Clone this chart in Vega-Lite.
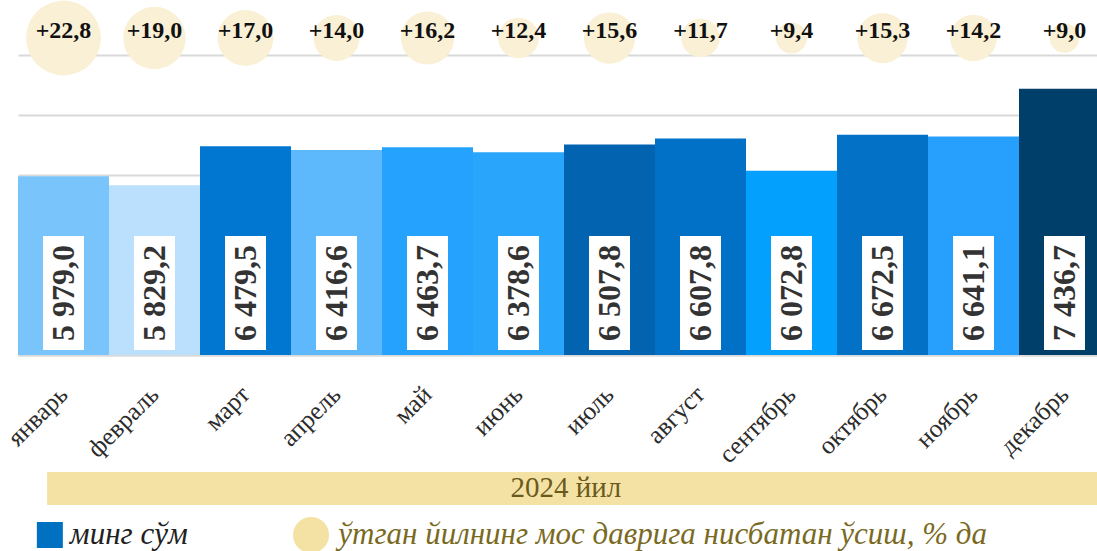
{
  "$schema": "https://vega.github.io/schema/vega-lite/v6.json",
  "width": 1079,
  "height": 355,
  "autosize": {"type": "none"},
  "padding": {"left": 18, "top": 0, "right": 0, "bottom": 196},
  "background": "white",
  "config": {
    "view": {"stroke": null},
    "font": "Liberation Serif",
    "locale": {"number": {"decimal": ",", "thousands": " ", "grouping": [3], "currency": ["", ""]}}
  },
  "data": {"values": [
    {"month": "январь", "value": 5979.0, "growth": 22.8},
    {"month": "февраль", "value": 5829.2, "growth": 19.0},
    {"month": "март", "value": 6479.5, "growth": 17.0},
    {"month": "апрель", "value": 6416.6, "growth": 14.0},
    {"month": "май", "value": 6463.7, "growth": 16.2},
    {"month": "июнь", "value": 6378.6, "growth": 12.4},
    {"month": "июль", "value": 6507.8, "growth": 15.6},
    {"month": "август", "value": 6607.8, "growth": 11.7},
    {"month": "сентябрь", "value": 6072.8, "growth": 9.4},
    {"month": "октябрь", "value": 6672.5, "growth": 15.3},
    {"month": "ноябрь", "value": 6641.1, "growth": 14.2},
    {"month": "декабрь", "value": 7436.7, "growth": 9.0}
  ]},
  "encoding": {
    "x": {
      "field": "month", "type": "nominal", "sort": null,
      "scale": {"range": [0, 1092], "paddingInner": 0, "paddingOuter": 0},
      "axis": {
        "title": null, "labelAngle": -45, "labelAlign": "right", "labelBaseline": "middle",
        "labelFontSize": 25.5, "labelFont": "Liberation Serif", "labelColor": "#2B2B2B",
        "labelPadding": 35, "ticks": false, "domain": true, "domainColor": "#D9D9D9", "domainWidth": 2
      }
    }
  },
  "layer": [
    {
      "mark": {"type": "bar"},
      "encoding": {
        "y": {
          "field": "value", "type": "quantitative",
          "scale": {"domain": [3000, 8916.7], "nice": false, "zero": false},
          "axis": {"title": null, "values": [3000, 4000, 5000, 6000, 7000, 8000], "labels": false, "ticks": false, "domain": false, "grid": true, "gridColor": "#D9D9D9", "gridWidth": 2}
        },
        "y2": {"datum": 3000},
        "color": {
          "field": "month", "type": "nominal", "legend": null,
          "scale": {
            "domain": ["январь", "февраль", "март", "апрель", "май", "июнь", "июль", "август", "сентябрь", "октябрь", "ноябрь", "декабрь"],
            "range": ["#78C4FB", "#BAE0FD", "#0277D1", "#5DB9FC", "#24A2FE", "#2AA5FC", "#0263B1", "#0170C7", "#04A0FE", "#0271C6", "#26A0FC", "#013F6B"]
          }
        }
      }
    },
    {
      "mark": {"type": "bar", "width": 41, "color": "white"},
      "encoding": {"y": {"datum": 4983}, "y2": {"datum": 3083}}
    },
    {
      "mark": {"type": "text", "angle": 270, "align": "center", "baseline": "middle", "fontSize": 32, "fontWeight": "bold", "color": "#333333", "font": "Liberation Serif"},
      "encoding": {"y": {"datum": 4035}, "text": {"field": "value", "type": "quantitative", "format": ",.1f"}}
    },
    {
      "mark": {"type": "circle", "opacity": 1, "color": "#FAF0D5"},
      "encoding": {
        "y": {"datum": 8283},
        "size": {"field": "growth", "type": "quantitative", "legend": null, "scale": {"type": "pow", "exponent": 2, "domain": [0, 22.8], "range": [0, 5600]}}
      }
    },
    {
      "mark": {"type": "text", "align": "center", "baseline": "middle", "fontSize": 24, "fontWeight": "bold", "color": "#111111", "font": "Liberation Serif"},
      "encoding": {"y": {"datum": 8400}, "text": {"field": "growth", "type": "quantitative", "format": "+.1f"}}
    },
    {
      "data": {"values": [{"k": 1}]},
      "mark": {"type": "rect", "color": "#F4E2A5"},
      "encoding": {
        "x": {"datum": "январь", "bandPosition": 0.32},
        "x2": {"datum": "декабрь", "bandPosition": 1},
        "y": {"datum": 1050},
        "y2": {"datum": 500}
      }
    },
    {
      "data": {"values": [{"t": "2024 йил"}]},
      "mark": {"type": "text", "align": "center", "baseline": "middle", "fontSize": 29, "color": "#6B5A1E", "font": "Liberation Serif"},
      "encoding": {"x": {"datum": "июль", "bandPosition": 0.02}, "y": {"datum": 783}, "text": {"field": "t"}}
    },
    {
      "data": {"values": [{"k": 1}]},
      "mark": {"type": "square", "filled": true, "opacity": 1, "size": 676, "color": "#0070C0"},
      "encoding": {"x": {"datum": "январь", "bandPosition": 0.35}, "y": {"datum": 0}}
    },
    {
      "data": {"values": [{"t": "минг сўм"}]},
      "mark": {"type": "text", "align": "left", "baseline": "middle", "fontSize": 31, "fontStyle": "italic", "color": "#222222", "font": "Liberation Serif"},
      "encoding": {"x": {"datum": "январь", "bandPosition": 0.57}, "y": {"datum": 0}, "text": {"field": "t"}}
    },
    {
      "data": {"values": [{"k": 1}]},
      "mark": {"type": "circle", "opacity": 1, "size": 1300, "color": "#F4E2A5"},
      "encoding": {"x": {"datum": "апрель", "bandPosition": 0.22}, "y": {"datum": 0}}
    },
    {
      "data": {"values": [{"t": "ўтган йилнинг мос даврига нисбатан ўсиш, % да"}]},
      "mark": {"type": "text", "align": "left", "baseline": "middle", "fontSize": 31, "fontStyle": "italic", "color": "#7A6A1F", "font": "Liberation Serif"},
      "encoding": {"x": {"datum": "апрель", "bandPosition": 0.52}, "y": {"datum": 0}, "text": {"field": "t"}}
    }
  ]
}
